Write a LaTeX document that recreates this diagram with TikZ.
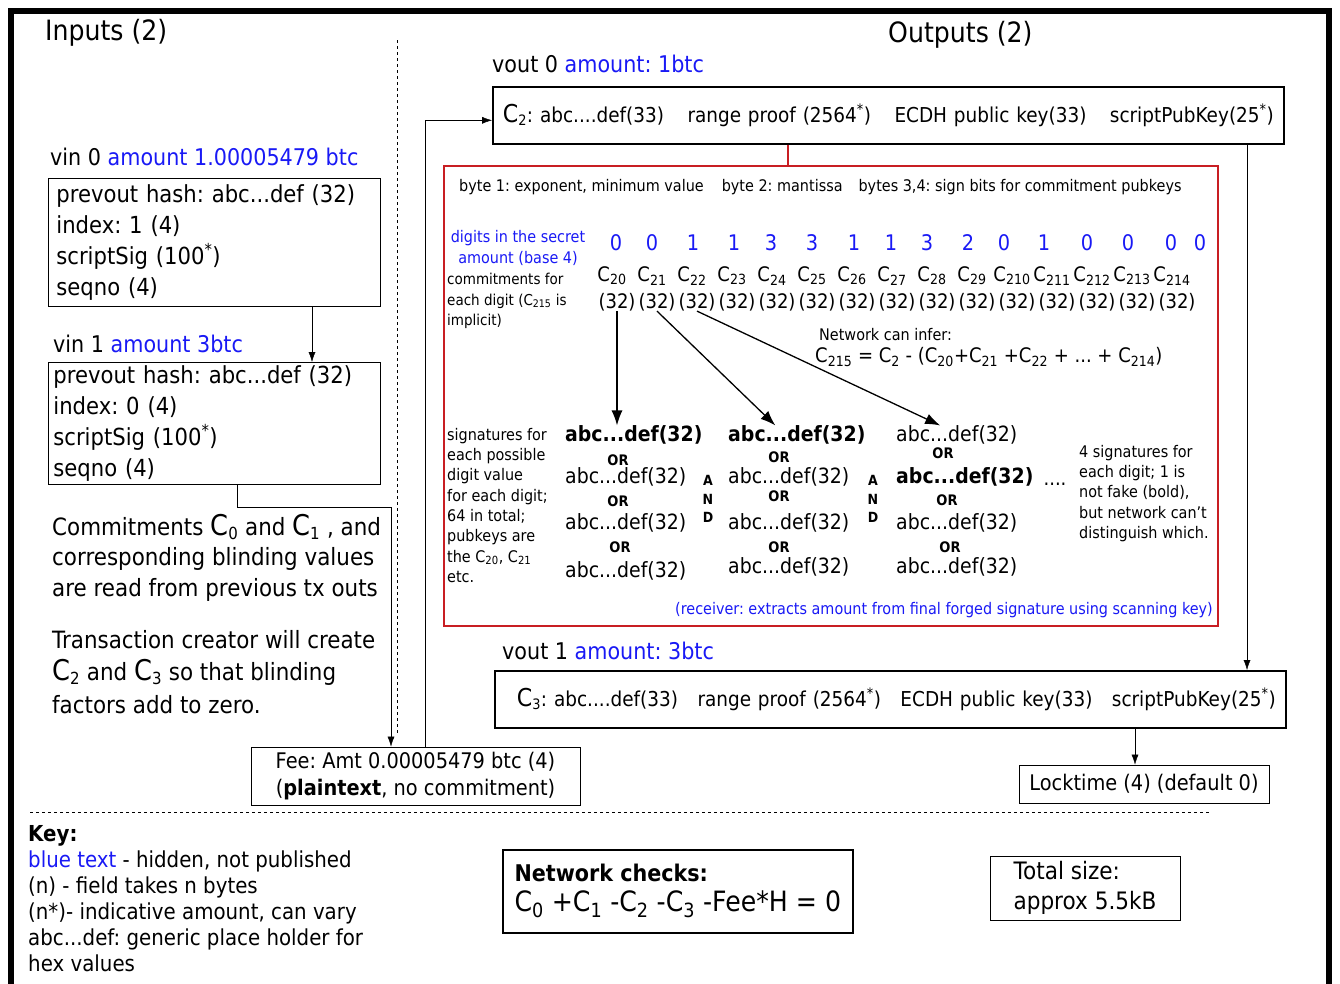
\documentclass[tikz,border=0pt]{standalone}
\usepackage{fontspec}
\setmainfont{DejaVu Sans}[FakeStretch=0.9]
\usepackage{color}
\definecolor{myblue}{RGB}{25,25,245}
\definecolor{myred}{RGB}{200,30,35}
\usepackage{tikz}
\usetikzlibrary{calc,positioning,arrows.meta}
\tikzstyle{titletxt}=[anchor=west,inner sep=0pt,font=\fontsize{28}{32}\selectfont]
\tikzstyle{headtxt}=[anchor=west,inner sep=0pt,font=\fontsize{23}{28}\selectfont]
\tikzstyle{bodytxt}=[anchor=north west,align=left,inner sep=0pt,font=\fontsize{23.8}{30.5}\selectfont]
\tikzstyle{inbox}=[draw,thick,anchor=north west,align=left,inner xsep=8pt,inner ysep=0pt,font=\fontsize{23.5}{31}\selectfont]
\tikzstyle{outbox}=[draw,line width=1.6pt,anchor=north west,inner xsep=10pt,font=\fontsize{20.5}{24}\selectfont]
\tikzstyle{plainbox}=[draw,thick,align=center,font=\fontsize{21.5}{27}\selectfont]
\tikzstyle{smalltxt}=[inner sep=0pt,font=\fontsize{16}{20.3}\selectfont]
\tikzstyle{digit}=[inner sep=0pt,text=myblue,font=\fontsize{21.5}{24}\selectfont]
\tikzstyle{commit}=[inner sep=0pt,font=\fontsize{20}{24}\selectfont]
\tikzstyle{sig}=[anchor=west,inner sep=0pt,font=\fontsize{21}{24}\selectfont]
\tikzstyle{bsig}=[sig,font=\fontsize{21}{24}\selectfont\bfseries]
\tikzstyle{ortxt}=[inner sep=0pt,font=\fontsize{14.5}{16}\selectfont\bfseries]
\tikzstyle{andtxt}=[inner sep=0pt,align=center,font=\fontsize{14}{18.5}\selectfont\bfseries]
\tikzstyle{arr}=[-{Latex[length=10pt,width=7pt]}]
\tikzstyle{bigarr}=[line width=1.3pt,-{Latex[length=15pt,width=11pt]}]
\newcommand{\sbs}[1]{\textsubscript{#1}}
\newcommand{\blue}[1]{\textcolor{myblue}{#1}}
\newcommand{\bigc}{\scalebox{1.2}{C}}
\frenchspacing

\begin{document}
\begin{tikzpicture}[x=1pt,y=-1pt]
\useasboundingbox (0,0) rectangle (1340,983);
\draw[line width=6pt] (11,11) rectangle (1329,996);
% headings
\draw (45,33) node[titletxt] (inputs) {Inputs (2)};
\draw (888,35) node[titletxt] (outputs) {Outputs (2)};
\draw[dashed] (397,40) -- (397,735);

% inputs
\draw (50,157) node[headtxt] (vin0lbl) {vin 0 \blue{amount 1.00005479 btc}};
\draw (48,178) node[inbox,minimum height=128pt,text width=316pt] (vin0) {prevout hash: abc...def (32)\\index: 1 (4)\\scriptSig (100\textsuperscript{*})\\seqno (4)};
\draw (53,344) node[headtxt] (vin1lbl) {vin 1 \blue{amount 3btc}};
\draw (48,362) node[inbox,inner xsep=5pt,minimum height=122pt,text width=322pt] (vin1) {prevout hash: abc...def (32)\\index: 0 (4)\\scriptSig (100\textsuperscript{*})\\seqno (4)};
\draw (52,514) node[bodytxt] (commit) {Commitments \bigc\sbs{0} and \bigc\sbs{1} , and\\corresponding blinding values\\are read from previous tx outs};
\draw (52,630) node[bodytxt,font=\fontsize{23.8}{32.5}\selectfont] (creator) {Transaction creator will create\\\bigc\sbs{2} and \bigc\sbs{3} so that blinding\\factors add to zero.};
\draw (415.5,776) node[plainbox,minimum width=329pt,minimum height=58pt] (fee) {Fee: Amt 0.00005479 btc (4)\\(\textbf{plaintext}, no commitment)};

% outputs
\draw (492,64) node[headtxt] (vout0lbl) {vout 0 \blue{amount: 1btc}};
\draw (492,86) node[outbox,minimum height=57pt,text width=771pt] (vout0) {\bigc\sbs{2}: abc....def(33)\hfill range proof (2564\textsuperscript{*})\hfill ECDH public key(33)\hfill scriptPubKey(25\textsuperscript{*})};
\draw (443,165) node[draw=myred,line width=1.6pt,anchor=north west,minimum width=774pt,minimum height=460pt,inner sep=0pt] (proof) {};
\draw (502,651) node[headtxt] (vout1lbl) {vout 1 \blue{amount: 3btc}};
\draw (494,670) node[outbox,minimum height=57pt,text width=771pt] (vout1) {\hspace*{12pt}\bigc\sbs{3}: abc....def(33)\hfill range proof (2564\textsuperscript{*})\hfill ECDH public key(33)\hfill scriptPubKey(25\textsuperscript{*})};
\draw (1144,784) node[plainbox,minimum width=250pt,minimum height=38pt] (lock) {Locktime (4) (default 0)};

% connectors
\coordinate (k1) at (312,0);
\coordinate (k2) at (237,0);
\coordinate (k3) at (391,507);
\coordinate (k4) at (425,0);
\coordinate (k5) at (788,0);
\coordinate (k6) at (1247,0);
\coordinate (k7) at (1135,0);
\draw[arr] (vin0.south -| k1) -- (vin1.north -| k1);
\draw[arr] (vin1.south -| k2) |- (k3) -- (fee.north -| k3);
\draw[arr] (fee.north -| k4) |- ($(vout0.west)+(0,5)$);
\draw[myred,line width=1.6pt] (vout0.south -| k5) -- (proof.north -| k5);
\draw[arr] (vout0.south -| k6) -- (vout1.north -| k6);
\draw[arr] (vout1.south -| k7) -- (lock.north -| k7);

% range proof
\draw (459,187) node[smalltxt,anchor=west] (bytes) {byte 1: exponent, minimum value\hspace{18pt}byte 2: mantissa\hspace{16pt}bytes 3,4: sign bits for commitment pubkeys};
\draw (518,248) node[smalltxt,text=myblue,align=center] (secret) {digits in the secret\\amount (base 4)};
\foreach \x/\d [count=\i] in {616/0,652/0,693/1,734/1,771/3,812/3,854/1,891/1,927/3,968/2,1004/0,1044/1,1087/0,1128/0,1171/0,1200/0}
  \draw (\x,243) node[digit] (dig\i) {\d};
\foreach \i in {0,...,14} {
  \draw ({612+40*\i},276) node[commit] (c\i) {C\sbs{2\i}};
  \draw ({617+40*\i},302) node[commit] (s\i) {(32)};
}
\draw (447,273) node[smalltxt,anchor=north west,align=left,font=\fontsize{15}{20.5}\selectfont] (cmtnote) {commitments for\\each digit (C\sbs{215} is\\implicit)};
\draw (819,335) node[smalltxt,anchor=west] (infer) {Network can infer:};
\draw (815,357) node[commit,anchor=west] (formula) {C\sbs{215} = C\sbs{2} - (C\sbs{20}+C\sbs{21} +C\sbs{22} + ... + C\sbs{214})};
\draw (447,428) node[smalltxt,anchor=north west,align=left] (signote) {signatures for\\each possible\\digit value\\for each digit;\\64 in total;\\pubkeys are\\the C\sbs{20}, C\sbs{21}\\etc.};

\draw (565,435) node[bsig] (sig11) {abc...def(32)};
\draw (618,460) node[ortxt] (or11) {OR};
\draw (565,477) node[sig] (sig12) {abc...def(32)};
\draw (618,501) node[ortxt] (or12) {OR};
\draw (565,523) node[sig] (sig13) {abc...def(32)};
\draw (620,547) node[ortxt] (or13) {OR};
\draw (565,571) node[sig] (sig14) {abc...def(32)};

\draw (728,435) node[bsig] (sig21) {abc...def(32)};
\draw (779,457) node[ortxt] (or21) {OR};
\draw (728,477) node[sig] (sig22) {abc...def(32)};
\draw (779,496) node[ortxt] (or22) {OR};
\draw (728,523) node[sig] (sig23) {abc...def(32)};
\draw (779,547) node[ortxt] (or23) {OR};
\draw (728,567) node[sig] (sig24) {abc...def(32)};

\draw (896,435) node[sig] (sig31) {abc...def(32)};
\draw (943,453) node[ortxt] (or31) {OR};
\draw (896,477) node[bsig] (sig32) {abc...def(32)};
\draw (947,500) node[ortxt] (or32) {OR};
\draw (896,523) node[sig] (sig33) {abc...def(32)};
\draw (950,547) node[ortxt] (or33) {OR};
\draw (896,567) node[sig] (sig34) {abc...def(32)};

\draw (708,499) node[andtxt] (and1) {A\\N\\D};
\draw (873,499) node[andtxt] (and2) {A\\N\\D};
\draw (1055,484) node[commit] (dots) {....};
\draw (1079,445) node[smalltxt,anchor=north west,align=left] (fourinfo) {4 signatures for\\each digit; 1 is\\not fake (bold),\\but network can't\\distinguish which.};
\draw (1213,610) node[smalltxt,anchor=east,text=myblue] (recv) {(receiver: extracts amount from final forged signature using scanning key)};

\draw[bigarr] (s0.south) -- (s0.south |- sig11.north);
\draw[bigarr] (s1.south) -- (sig21.156);
\draw[bigarr] (s2.south) -- (sig31.150);

% key
\draw[dashed] (30,812) -- (1210,812);
\draw (28,825) node[anchor=north west,align=left,inner sep=0pt,font=\fontsize{22}{26}\selectfont] (key) {\textbf{Key:}\\\blue{blue text} - hidden, not published\\(n) - field takes n bytes\\(n*)- indicative amount, can vary\\abc...def: generic place holder for\\hex values};
\draw (502,849) node[draw,line width=1.6pt,anchor=north west,minimum width=350pt,minimum height=83pt,align=left,inner xsep=7pt,font=\fontsize{23}{28}\selectfont] (checks) {\textbf{Network checks:}\\[2pt]{\fontsize{28}{34}\selectfont C\sbs{0} +C\sbs{1} -C\sbs{2} -C\sbs{3} -Fee*H = 0}};
\draw (1085,888) node[draw,thick,minimum width=190pt,minimum height=64pt,align=left,font=\fontsize{24}{30}\selectfont] (total) {Total size:\\approx 5.5kB};
\end{tikzpicture}
\end{document}
